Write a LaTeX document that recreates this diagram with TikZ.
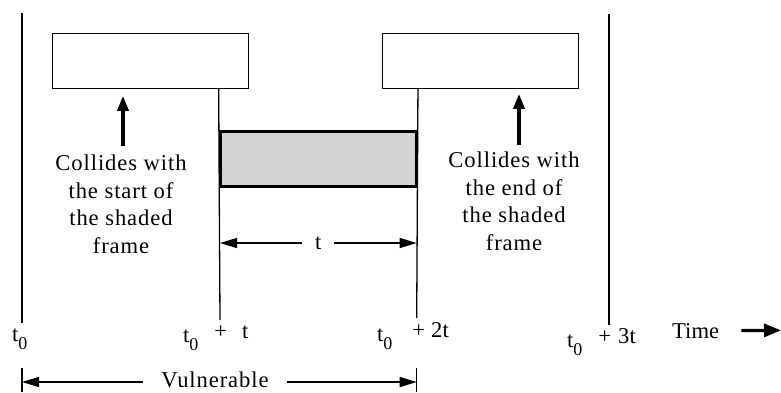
\documentclass[tikz,border=0pt]{standalone}
\usepackage{fontspec}
\setmainfont{Liberation Serif}
\newfontfamily\spacedfont[LetterSpace=4]{Liberation Serif}
\usetikzlibrary{arrows.meta}
\newcommand{\tzero}{t\raisebox{-8pt}{\fontsize{18}{18}\selectfont 0}}
\tikzset{
  txt/.style={font=\fontsize{22.6}{27.7}\selectfont, inner sep=0pt},
  note/.style={font=\spacedfont\fontsize{22.6}{27.7}\selectfont, inner sep=0pt, align=center},
  frame/.style={draw, line width=1.2pt, minimum width=196pt, minimum height=55pt, inner sep=0pt},
  shadedframe/.style={frame, line width=3.3pt, fill=black!17},
  tline/.style={line width=1.3pt},
  push/.style={line width=3.5pt, -{Triangle[length=15pt,width=11pt]}},
  dim/.style={line width=1.2pt, {Triangle[length=17pt,width=10pt]}-{Triangle[length=17pt,width=10pt]}}
}
\begin{document}
\begin{tikzpicture}[x=1pt, y=-1pt]
  \useasboundingbox (0,0) rectangle (781,392);

  % frames
  \node[frame] (boxA) at (150.7,60.7) {};
  \node[frame] (boxB) at (480.7,60.7) {};
  \node[shadedframe] (shaded) at (318.3,159.2) {};

  % time lines
  \draw[tline] (22,13) -- (22,323);
  \draw[tline] (boxA.south -| shaded.west) -- (220,320);
  \draw[tline] (boxB.south -| shaded.east) -- (416.7,318);
  \draw[tline] (609,14) -- (609,325);

  % collisions
  \node[note, anchor=north] (hitStart) at (121,154.6) {Collides with\\the start of\\the shaded\\frame};
  \node[note, anchor=north] (hitEnd) at (514,151.6) {Collides with\\the end of\\the shaded\\frame};
  \draw[push, shorten <=8.6pt, shorten >=7pt] ([xshift=2pt]hitStart.north) -- ([xshift=2pt]hitStart.north |- boxA.south);
  \draw[push, shorten <=6.6pt, shorten >=5pt] ([xshift=5pt]hitEnd.north) -- ([xshift=5pt]hitEnd.north |- boxB.south);

  % frame time t
  \coordinate (tL) at (220,243);
  \coordinate (tR) at (416.7,243);
  \draw[dim] (tL) -- node[txt, fill=white, inner xsep=13pt, inner ysep=2pt] (tLen) {t} (tR);

  % instants
  \node[txt, anchor=base west] (tA) at (12,341.7) {\tzero};
  \node[txt, anchor=base west] (tB) at (183,342) {\tzero\hspace{16pt}\raisebox{4pt}{+\hspace{15pt}t}};
  \node[txt, anchor=base west] (tC) at (377,341.7) {\tzero\hspace{20pt}\raisebox{4pt}{+\hspace{6pt}2t}};
  \node[txt, anchor=base west] (tD) at (567,347) {\tzero\hspace{16pt}\raisebox{4pt}{+\hspace{7pt}3t}};
  \node[txt, anchor=base west] (time) at (672,338) {Time};
  \coordinate (timeEnd) at (781,330.3);
  \draw[line width=3.3pt, -{Triangle[length=17pt,width=13pt]}, shorten <=22pt] (time.east) -- (timeEnd);

  % vulnerable period
  \draw[tline] (22,368) -- (22,392);
  \draw[tline] (416.7,368) -- (416.7,392);
  \coordinate (vL) at (22,382);
  \coordinate (vR) at (416.7,382);
  \draw[dim] (vL) -- node[note, pos=0.489, fill=white, inner xsep=18pt, inner ysep=1pt, yshift=2.5pt] (vuln) {Vulnerable} (vR);
\end{tikzpicture}
\end{document}
